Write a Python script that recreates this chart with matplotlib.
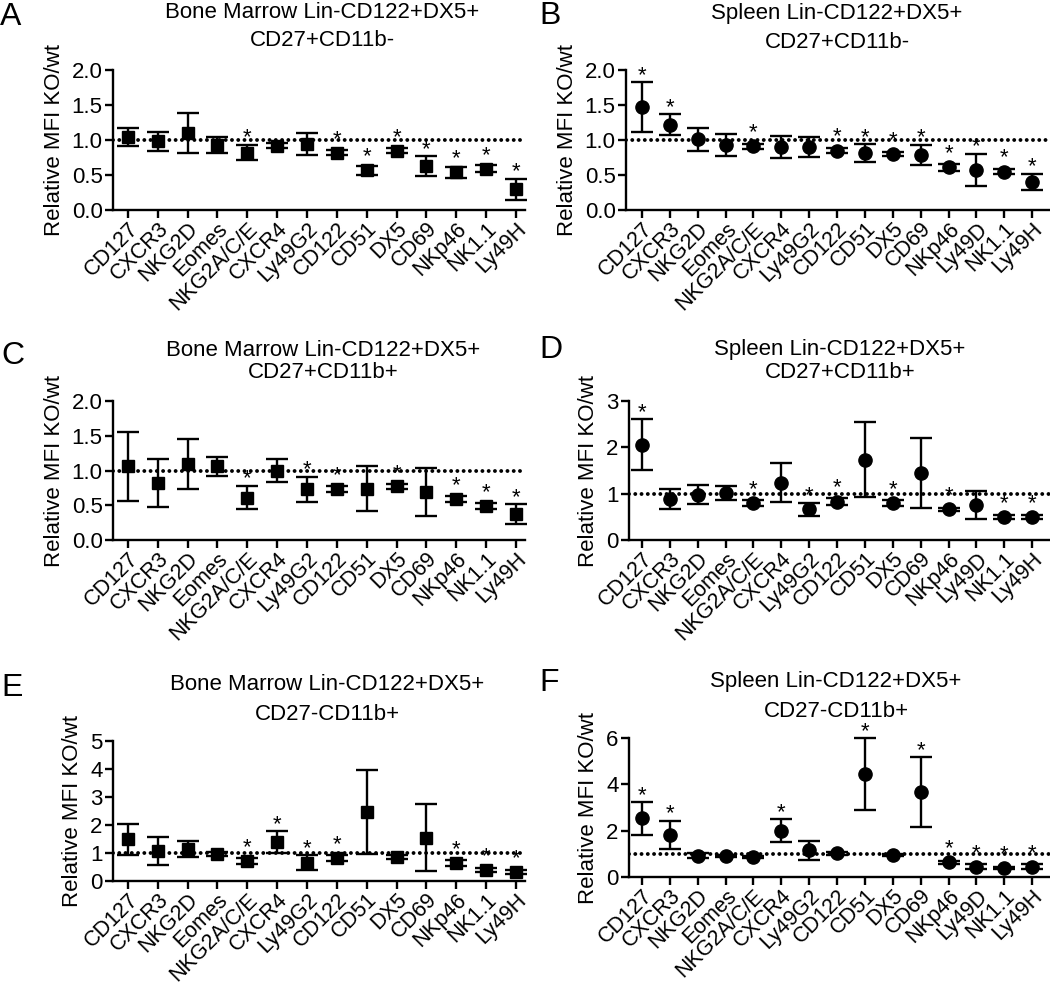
import numpy as np
import matplotlib
matplotlib.use("Agg")
import matplotlib.pyplot as plt

plt.rcParams['font.family'] = ['Liberation Sans', 'DejaVu Sans']

# categories
labels_bm = ["CD127", "CXCR3", "NKG2D", "Eomes", "NKG2A/C/E", "CXCR4", "Ly49G2",
             "CD122", "CD51", "DX5", "CD69", "NKp46", "NK1.1", "Ly49H"]
labels_sp = ["CD127", "CXCR3", "NKG2D", "Eomes", "NKG2A/C/E", "CXCR4", "Ly49G2",
             "CD122", "CD51", "DX5", "CD69", "NKp46", "Ly49D", "NK1.1", "Ly49H"]

# A: bone marrow CD27+CD11b-
a_mean = [1.04, 0.98, 1.10, 0.93, 0.82, 0.92, 0.94, 0.82, 0.57, 0.85, 0.63, 0.54, 0.59, 0.30]
a_err = [0.13, 0.13, 0.28, 0.12, 0.11, 0.04, 0.16, 0.04, 0.065, 0.04, 0.14, 0.08, 0.05, 0.15]
a_star = [4, 7, 8, 9, 10, 11, 12, 13]

# B: spleen CD27+CD11b-
b_mean = [1.47, 1.22, 1.01, 0.93, 0.91, 0.90, 0.90, 0.85, 0.81, 0.80, 0.79, 0.61, 0.57, 0.55, 0.40]
b_err = [0.355, 0.15, 0.16, 0.16, 0.04, 0.16, 0.14, 0.03, 0.13, 0.03, 0.14, 0.05, 0.23, 0.04, 0.115]
b_star = [0, 1, 4, 7, 8, 9, 10, 11, 12, 13, 14]

# C: bone marrow CD27+CD11b+
c_mean = [1.06, 0.82, 1.09, 1.06, 0.61, 1.00, 0.73, 0.73, 0.74, 0.77, 0.69, 0.59, 0.49, 0.37]
c_err = [0.50, 0.35, 0.36, 0.14, 0.17, 0.17, 0.18, 0.04, 0.32, 0.04, 0.35, 0.05, 0.04, 0.145]
c_star = [4, 6, 7, 9, 11, 12, 13]

# D: spleen CD27+CD11b+
d_mean = [2.06, 0.88, 0.98, 1.02, 0.80, 1.24, 0.66, 0.83, 1.73, 0.80, 1.44, 0.66, 0.75, 0.50, 0.50]
d_err = [0.545, 0.21, 0.20, 0.15, 0.06, 0.43, 0.14, 0.07, 0.81, 0.06, 0.755, 0.03, 0.30, 0.05, 0.05]
d_star = [0, 4, 6, 7, 9, 11, 13, 14]

# E: bone marrow CD27-CD11b+
e_mean = [1.49, 1.06, 1.14, 0.98, 0.71, 1.39, 0.65, 0.82, 2.46, 0.85, 1.55, 0.64, 0.40, 0.33]
e_err = [0.555, 0.50, 0.29, 0.07, 0.10, 0.39, 0.27, 0.10, 1.50, 0.08, 1.20, 0.10, 0.08, 0.08]
e_star = [4, 5, 6, 7, 11, 12, 13]

# F: spleen CD27-CD11b+
f_mean = [2.53, 1.82, 0.92, 0.92, 0.86, 2.00, 1.16, 1.02, 4.44, 0.95, 3.67, 0.63, 0.44, 0.40, 0.44]
f_err = [0.70, 0.60, 0.10, 0.05, 0.06, 0.50, 0.41, 0.05, 1.55, 0.05, 1.50, 0.08, 0.10, 0.05, 0.10]
f_star = [0, 1, 5, 8, 10, 11, 12, 13, 14]

W, H = 1050, 988
fig = plt.figure(figsize=(W / 100, H / 100), dpi=100)


def rect(left, right, top, bottom):
    return [left / W, 1 - bottom / H, (right - left) / W, (bottom - top) / H]


panels = [
    # letter, box(px), xlim, labels, mean, err, stars, ymax, yticks, fmt, marker,
    # title lines, title pos (x, y1, y2), letter pos
    ("A", (113, 525, 70, 210), (-0.5, 13.3), labels_bm, a_mean, a_err, a_star, 2.0,
     [0, 0.5, 1.0, 1.5, 2.0], "{:.1f}", "s", "Bone Marrow Lin-CD122+DX5+", "CD27+CD11b-",
     (322, 17.5, 45.5), (11, 17)),
    ("B", (626, 1050, 70, 210), (-0.574, 14.64), labels_sp, b_mean, b_err, b_star, 2.0,
     [0, 0.5, 1.0, 1.5, 2.0], "{:.1f}", "o", "Spleen Lin-CD122+DX5+", "CD27+CD11b-",
     (837, 19.5, 47.5), (550, 16)),
    ("C", (113, 525, 401, 540), (-0.5, 13.3), labels_bm, c_mean, c_err, c_star, 2.0,
     [0, 0.5, 1.0, 1.5, 2.0], "{:.1f}", "s", "Bone Marrow Lin-CD122+DX5+", "CD27+CD11b+",
     (323, 356.5, 377.5), (13, 356)),
    ("D", (629, 1050, 401, 540), (-0.467, 14.64), labels_sp, d_mean, d_err, d_star, 3,
     [0, 1, 2, 3], "{:.0f}", "o", "Spleen Lin-CD122+DX5+", "CD27+CD11b+",
     (840, 354.5, 377.5), (551, 350)),
    ("E", (113, 525, 741, 881), (-0.5, 13.3), labels_bm, e_mean, e_err, e_star, 5,
     [0, 1, 2, 3, 4, 5], "{:.0f}", "s", "Bone Marrow Lin-CD122+DX5+", "CD27-CD11b+",
     (327, 689.5, 719.5), (12, 688)),
    ("F", (629, 1050, 738, 877), (-0.467, 14.64), labels_sp, f_mean, f_err, f_star, 6,
     [0, 2, 4, 6], "{:.0f}", "o", "Spleen Lin-CD122+DX5+", "CD27-CD11b+",
     (836, 686.5, 716.5), (549, 683)),
]

for (letter, box, xlim, labels, mean, err, stars, ymax, yticks, tfmt, marker,
     t1, t2, tpos, lpos) in panels:
    ax = fig.add_axes(rect(*box))
    x = np.arange(len(labels))
    ax.axhline(1, color="black", lw=2.8, linestyle=(0, (0.01, 1.6)),
               dash_capstyle="round", zorder=1)
    ms = 9 if marker == "s" else 9.5
    ax.errorbar(x, mean, yerr=err, fmt=marker, color="black", ms=ms,
                capsize=8, elinewidth=1.7, capthick=1.7, zorder=3, clip_on=False)

    ax.set_xlim(*xlim)
    ax.set_ylim(0, ymax)
    for s in ["top", "right"]:
        ax.spines[s].set_visible(False)
    for s in ["left", "bottom"]:
        ax.spines[s].set_linewidth(1.7)
    ax.set_xticks(x)
    ax.set_xticklabels(labels, rotation=45, ha="right", va="top",
                       rotation_mode="anchor", fontsize=15.5)
    ax.set_yticks(yticks)
    ax.set_yticklabels([tfmt.format(v) for v in yticks], fontsize=16)
    ax.tick_params(axis="both", direction="out", length=5.5, width=1.7)
    ax.tick_params(axis="y", pad=2)
    ax.tick_params(axis="x", pad=0.5)
    ax.set_ylabel("Relative MFI KO/wt", fontsize=16, labelpad=5)

    # significance stars above each error bar
    ppu = ax.bbox.height / ymax * 72 / 100
    for i in stars:
        top = max(err[i] * ppu, ms / 2)
        ax.annotate("*", xy=(i, mean[i]), xytext=(0, top + 1),
                    textcoords="offset points", ha="center", va="baseline",
                    fontsize=16, annotation_clip=False, zorder=5)

    fig.text(tpos[0] / W, 1 - tpos[1] / H, t1, ha="center", va="baseline", fontsize=16)
    fig.text(tpos[0] / W, 1 - tpos[2] / H, t2, ha="center", va="baseline", fontsize=16)
    fig.text(lpos[0] / W, 1 - lpos[1] / H, letter, ha="center", va="center", fontsize=23)

fig.savefig("out.png", dpi=100)
